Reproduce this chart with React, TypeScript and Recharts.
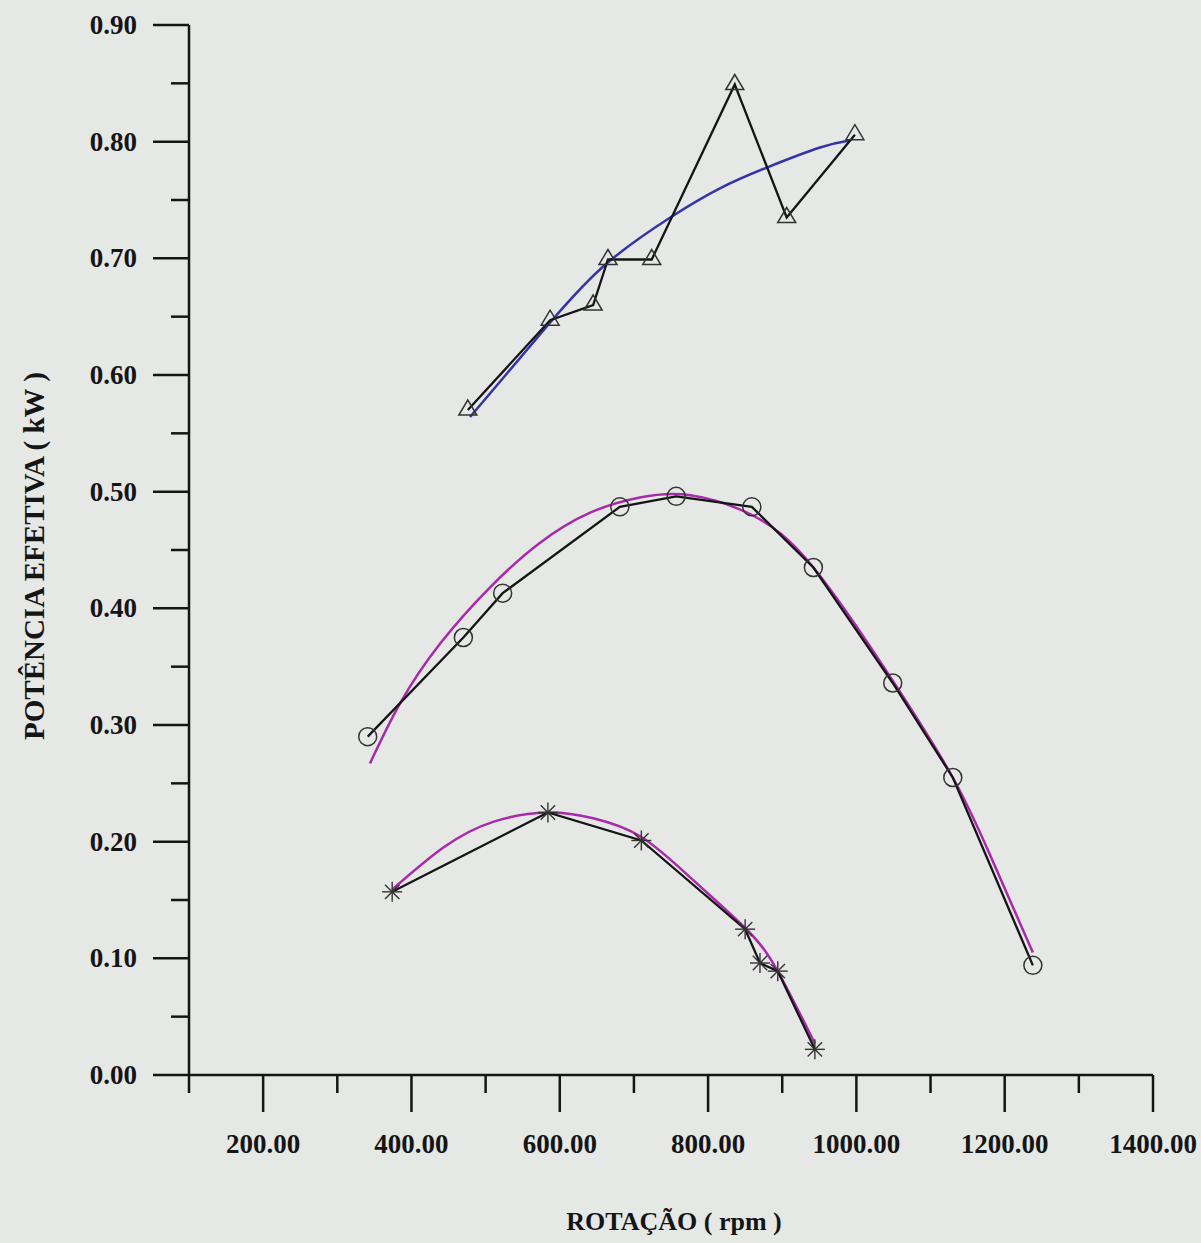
import React from "react";
import { LineChart, Line, XAxis, YAxis, Label } from "recharts";

// rotação (rpm) x potência efetiva (kW)

// triangles: measured points + blue fitted curve
const triRpm = [476, 587, 645, 665, 724, 836, 906, 998];
const triPow = [0.570, 0.647, 0.660, 0.699, 0.699, 0.849, 0.735, 0.806];
const triFitRpm = [479, 587, 664, 749, 816, 880, 951, 991];
const triFitPow = [0.564, 0.645, 0.696, 0.735, 0.760, 0.778, 0.795, 0.801];

// circles: measured points + magenta fitted curve
const circRpm = [341, 470, 523, 681, 757, 859, 942, 1049, 1130, 1238];
const circPow = [0.290, 0.375, 0.413, 0.487, 0.496, 0.487, 0.435, 0.336, 0.255, 0.094];
const circFitRpm = [344, 385, 439, 506, 573, 641, 708, 776, 859, 942, 1049, 1130, 1180, 1238];
const circFitPow = [0.267, 0.319, 0.370, 0.418, 0.456, 0.482, 0.495, 0.497, 0.480, 0.435, 0.338, 0.255, 0.189, 0.105];

// stars: measured points + magenta fitted curve
const starRpm = [374, 584, 710, 850, 870, 894, 944];
const starPow = [0.157, 0.225, 0.201, 0.125, 0.096, 0.089, 0.022];
const starFitRpm = [374, 443, 510, 584, 645, 710, 780, 850, 893, 944];
const starFitPow = [0.159, 0.195, 0.217, 0.225, 0.220, 0.204, 0.167, 0.126, 0.090, 0.027];

const xTicks = [100, 200, 300, 400, 500, 600, 700, 800, 900, 1000, 1100, 1200, 1300, 1400];
const yTicks = [0, 0.05, 0.1, 0.15, 0.2, 0.25, 0.3, 0.35, 0.4, 0.45, 0.5, 0.55, 0.6, 0.65, 0.7, 0.75, 0.8, 0.85, 0.9];

const zip = (xs: number[], ys: number[]) => xs.map((x, i) => ({ x, y: ys[i] }));

const FONT = "'Liberation Serif', 'Times New Roman', serif";
const INK = "#151515";
const MARK = "#333";

const XTick = (props: any) => {
    const { x, y, payload } = props;
    const major = payload.value % 200 === 0;
    return (
        <g>
            <line x1={x} y1={y} x2={x} y2={y + (major ? 37 : 18)} stroke={INK} strokeWidth={2.5} />
            {major && (
                <text x={x} y={y + 78} textAnchor="middle" fontFamily={FONT} fontWeight="bold" fontSize={27} fill={INK}>
                    {payload.value.toFixed(2)}
                </text>
            )}
        </g>
    );
};

const YTick = (props: any) => {
    const { x, y, payload } = props;
    const major = Math.round(payload.value * 100) % 10 === 0;
    return (
        <g>
            <line x1={x - (major ? 36 : 18)} y1={y} x2={x} y2={y} stroke={INK} strokeWidth={2.5} />
            {major && (
                <text x={x - 52} y={y + 9} textAnchor="end" fontFamily={FONT} fontWeight="bold" fontSize={27} fill={INK}>
                    {payload.value.toFixed(2)}
                </text>
            )}
        </g>
    );
};

const triangle = (p: any) => (
    <polygon
        key={`t${p.index}`}
        points={`${p.cx},${p.cy - 10} ${p.cx - 9},${p.cy + 5} ${p.cx + 9},${p.cy + 5}`}
        fill="none"
        stroke={MARK}
        strokeWidth={1.5}
    />
);

const circle = (p: any) => (
    <circle key={`c${p.index}`} cx={p.cx} cy={p.cy} r={9} fill="none" stroke={MARK} strokeWidth={1.5} />
);

const star = (p: any) => {
    const r = 10;
    const d = r * 0.72;
    return (
        <g key={`s${p.index}`} stroke={MARK} strokeWidth={1.4}>
            <line x1={p.cx} y1={p.cy - r} x2={p.cx} y2={p.cy + r} />
            <line x1={p.cx - r} y1={p.cy} x2={p.cx + r} y2={p.cy} />
            <line x1={p.cx - d} y1={p.cy - d} x2={p.cx + d} y2={p.cy + d} />
            <line x1={p.cx - d} y1={p.cy + d} x2={p.cx + d} y2={p.cy - d} />
        </g>
    );
};

export default function App() {
    return (
        <div style={{ position: "absolute", left: 0, top: 0, width: 1201, height: 1243, background: "#e6e8e6" }}>
            <LineChart width={1201} height={1243} margin={{ top: 25, right: 48, bottom: 0, left: 0 }}>
                <XAxis
                    type="number"
                    dataKey="x"
                    domain={[100, 1400]}
                    ticks={xTicks}
                    interval={0}
                    height={168}
                    tickSize={0}
                    tickMargin={0}
                    tick={<XTick />}
                    axisLine={{ stroke: INK, strokeWidth: 2.5 }}
                    allowDataOverflow
                >
                    <Label
                        content={() => (
                            <text x={674} y={1230} textAnchor="middle" fontFamily={FONT} fontWeight="bold" fontSize={26} fill={INK}>
                                ROTAÇÃO ( rpm )
                            </text>
                        )}
                    />
                </XAxis>
                <YAxis
                    type="number"
                    dataKey="y"
                    domain={[0, 0.9]}
                    ticks={yTicks}
                    interval={0}
                    width={189}
                    tickSize={0}
                    tickMargin={0}
                    tick={<YTick />}
                    axisLine={{ stroke: INK, strokeWidth: 2.5 }}
                    allowDataOverflow
                >
                    <Label
                        content={() => (
                            <text
                                x={44}
                                y={556}
                                transform="rotate(-90 44 556)"
                                textAnchor="middle"
                                fontFamily={FONT}
                                fontWeight="bold"
                                fontSize={29}
                                fill={INK}
                            >
                                POTÊNCIA EFETIVA ( kW )
                            </text>
                        )}
                    />
                </YAxis>

                <Line data={zip(triFitRpm, triFitPow)} dataKey="y" type="natural" stroke="#3434a6" strokeWidth={2.5} dot={false} isAnimationActive={false} />
                <Line data={zip(circFitRpm, circFitPow)} dataKey="y" type="natural" stroke="#a82aaa" strokeWidth={2.5} dot={false} isAnimationActive={false} />
                <Line data={zip(starFitRpm, starFitPow)} dataKey="y" type="natural" stroke="#a82aaa" strokeWidth={2.5} dot={false} isAnimationActive={false} />

                <Line data={zip(triRpm, triPow)} dataKey="y" type="linear" stroke={INK} strokeWidth={2.3} dot={triangle} isAnimationActive={false} />
                <Line data={zip(circRpm, circPow)} dataKey="y" type="linear" stroke={INK} strokeWidth={2.3} dot={circle} isAnimationActive={false} />
                <Line data={zip(starRpm, starPow)} dataKey="y" type="linear" stroke={INK} strokeWidth={2.3} dot={star} isAnimationActive={false} />
            </LineChart>
        </div>
    );
}
